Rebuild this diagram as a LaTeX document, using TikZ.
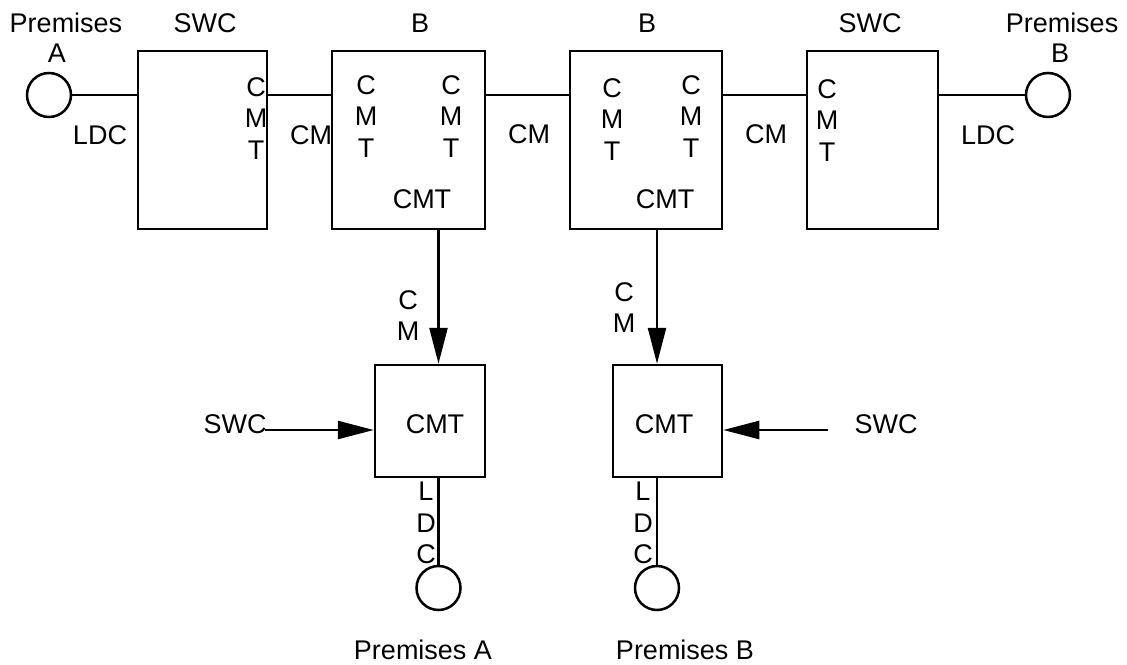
\documentclass[tikz,border=0pt]{standalone}
\usepackage{fontspec}
\setmainfont{Liberation Sans}
\usetikzlibrary{arrows.meta}
\begin{document}
\begin{tikzpicture}[x=1pt,y=-1pt,
  box/.style={draw,line width=2.5pt,inner sep=0,rectangle},
  prem/.style={draw,line width=2.5pt,circle,inner sep=0,minimum size=44pt},
  t/.style={font=\fontsize{27}{31.5}\selectfont,inner sep=0,align=center},
  ln/.style={line width=2.5pt},
  arr/.style={line width=2.5pt,-{Triangle[length=36pt,width=18pt]}}]
\useasboundingbox (0,0) rectangle (1127,664);
% boxes
\node[box,minimum width=129pt,minimum height=178pt] (swc1) at (202.5,140) {};
\node[box,minimum width=153pt,minimum height=178pt] (b1) at (408.5,140) {};
\node[box,minimum width=152pt,minimum height=178pt] (b2) at (646,140) {};
\node[box,minimum width=131pt,minimum height=178pt] (swc2) at (872.5,140) {};
\node[box,minimum width=110pt,minimum height=112pt] (c1) at (430,421) {};
\node[box,minimum width=109pt,minimum height=112pt] (c2) at (667.5,421) {};
% premises circles
\node[prem] (pa) at (49,95) {};
\node[prem] (pb) at (1048,95) {};
\node[prem] (pa2) at (438.5,588) {};
\node[prem] (pb2) at (657,588) {};
% coordinates
\coordinate (xa) at (438.5,0);
\coordinate (xb) at (657,0);
\coordinate (sl) at (265,430);
\coordinate (sr) at (828,430);
% connectors
\draw[ln] (pa.east) -- (pa.east -| swc1.west);
\draw[ln] (swc1.east |- pa) -- (b1.west |- pa);
\draw[ln] (b1.east |- pa) -- (b2.west |- pa);
\draw[ln] (b2.east |- pa) -- (swc2.west |- pa);
\draw[ln] (swc2.east |- pb) -- (pb.west);
\draw[arr] (b1.south -| xa) -- (c1.north -| xa);
\draw[arr] (b2.south -| xb) -- (c2.north -| xb);
\draw[arr] (sl) -- (sl -| c1.west);
\draw[arr] (sr) -- (sr -| c2.east);
\draw[ln] (c1.south -| xa) -- (pa2.north);
\draw[ln] (c2.south -| xb) -- (pb2.north);
% top labels
\node[t,anchor=base] (lpa) at (66,32) {Premises};
\node[t,anchor=base] (lpa2) at (57,62) {A};
\node[t,anchor=base] (lswc1) at (205,32) {SWC};
\node[t,anchor=base] (lb1) at (420,32) {B};
\node[t,anchor=base] (lb2) at (647,32) {B};
\node[t,anchor=base] (lswc2) at (870,32) {SWC};
\node[t,anchor=base] (lpb) at (1062,32) {Premises};
\node[t,anchor=base] (lpb2) at (1060,62) {B};
% link labels
\node[t,anchor=base] (lldc1) at (100,144) {LDC};
\node[t,anchor=base] (lcm1) at (311,144) {CM};
\node[t,anchor=base] (lcm2) at (529,143) {CM};
\node[t,anchor=base] (lcm3) at (766,143) {CM};
\node[t,anchor=base] (lldc2) at (988,144) {LDC};
% stacked CMT labels
\node[t,anchor=north] (s1) at (256,77) {C\\M\\T};
\node[t,anchor=north] (s2) at (366,75) {C\\M\\T};
\node[t,anchor=north] (s3) at (451,75) {C\\M\\T};
\node[t,anchor=north] (s4) at (612,78) {C\\M\\T};
\node[t,anchor=north] (s5) at (691,75) {C\\M\\T};
\node[t,anchor=north] (s6) at (827,79) {C\\M\\T};
\node[t,anchor=base] (cb1) at (422,208) {CMT};
\node[t,anchor=base] (cb2) at (665,208) {CMT};
% vertical link labels
\node[t,anchor=north] (v1) at (408,290) {C\\M};
\node[t,anchor=north] (v2) at (624,282) {C\\M};
\node[t,anchor=north] (v3) at (426,482) {L\\D\\C};
\node[t,anchor=north] (v4) at (643,482) {L\\D\\C};
% lower labels
\node[t,anchor=base] (lc1) at (435,433) {CMT};
\node[t,anchor=base] (lc2) at (664,433) {CMT};
\node[t,anchor=base] (lsl) at (235,433) {SWC};
\node[t,anchor=base] (lsr) at (886,433) {SWC};
\node[t,anchor=base] (lpa3) at (423,659) {Premises A};
\node[t,anchor=base] (lpb3) at (685,659) {Premises B};
\end{tikzpicture}
\end{document}
